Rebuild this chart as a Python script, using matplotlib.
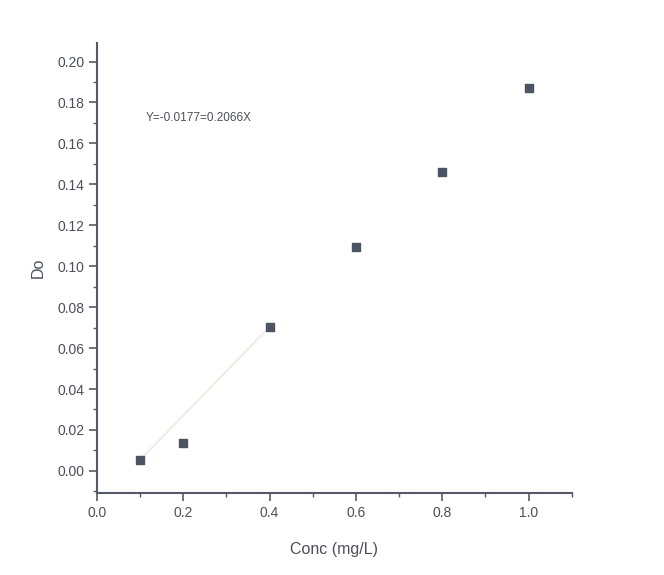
import matplotlib.pyplot as plt
from matplotlib.ticker import MultipleLocator

plt.rcParams['font.family'] = ['Liberation Sans', 'DejaVu Sans']

# data
conc = [0.1, 0.2, 0.4, 0.6, 0.8, 1.0]
do_vals = [0.0054, 0.0137, 0.0704, 0.1095, 0.1460, 0.1870]
equation = 'Y=-0.0177=0.2066X'

axis_col = '#555a66'
text_col = '#4a4f5a'

fig = plt.figure(figsize=(6.64, 5.75), dpi=100)
ax = fig.add_axes([0.146, 0.1426, 0.715, 0.7824])

# faint trace of the fit line visible in the scan
ax.plot([conc[0], conc[2]], [do_vals[0], do_vals[2]], color='#f3ece4', lw=1.5, zorder=1)
ax.scatter(conc, do_vals, marker='s', s=32, color='#4c5462', zorder=3)

ax.set_xlim(0, 1.1)
ax.set_ylim(-0.0108, 0.209)
ax.xaxis.set_minor_locator(MultipleLocator(0.1))
ax.yaxis.set_minor_locator(MultipleLocator(0.01))
ax.set_xticks([0.0, 0.2, 0.4, 0.6, 0.8, 1.0])
ax.set_xticklabels(['0.0', '0.2', '0.4', '0.6', '0.8', '1.0'])
ax.set_yticks([i * 0.02 for i in range(11)])
ax.set_yticklabels(['%.2f' % (i * 0.02) for i in range(11)])

for s in ['top', 'right']:
    ax.spines[s].set_visible(False)
for s in ['left', 'bottom']:
    ax.spines[s].set_color(axis_col)
    ax.spines[s].set_linewidth(1.5)

ax.tick_params(which='major', direction='out', length=6, width=1.2,
               color=axis_col, labelcolor=text_col, labelsize=10, pad=3)
ax.tick_params(which='minor', direction='out', length=3, width=1.0, color=axis_col)

ax.set_xlabel('Conc (mg/L)', fontsize=11.5, color=text_col, labelpad=16)
ax.set_ylabel('Do', fontsize=11.5, color=text_col, labelpad=8)

ax.text(0.113, 0.1725, equation, fontsize=8.5, color=text_col, va='center')

fig.savefig('out.png', dpi=100, facecolor='white')
